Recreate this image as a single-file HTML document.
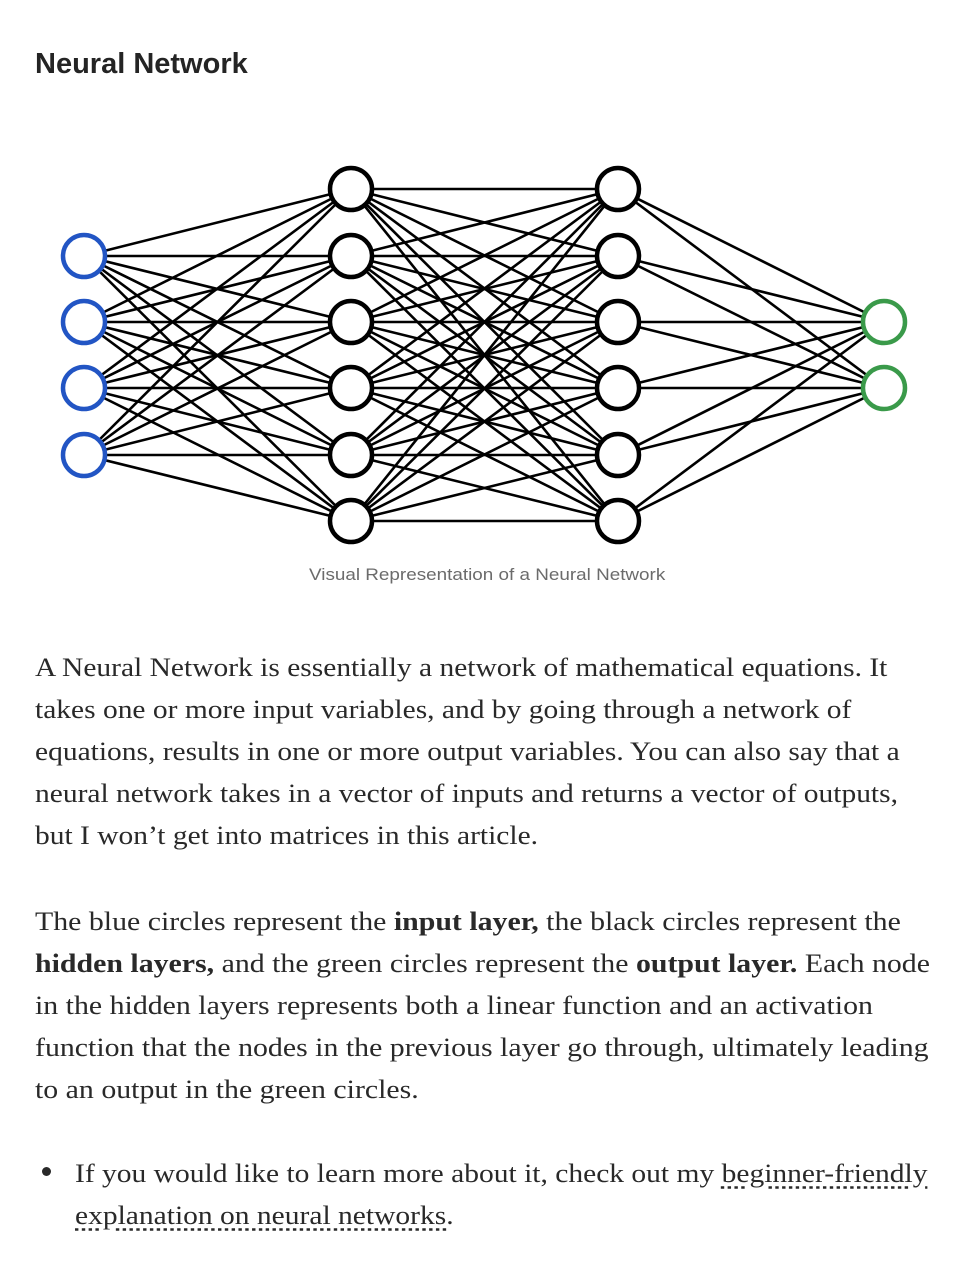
<!DOCTYPE html>
<html><head><meta charset="utf-8"><style>
body{margin:0;background:#fff;width:968px;height:1274px;overflow:hidden;position:relative;color:#292929}
h2{position:absolute;left:35px;top:48px;margin:0;font:bold 29px "Liberation Sans",sans-serif;color:#242424}
svg{position:absolute;left:0;top:0}
.cap{position:absolute;left:309px;top:565px;font:17px "Liberation Sans",sans-serif;color:#6b6b6b;white-space:nowrap;transform:scaleX(1.11);transform-origin:left}
.p{position:absolute;left:35px;font:26px/42px "Liberation Serif",serif;white-space:nowrap;transform:scaleX(1.134);transform-origin:left}
.p b{font-weight:bold}
u{text-decoration:underline dotted;text-underline-offset:4px}
.dot{position:absolute;left:42px;top:1167px;width:9px;height:9px;border-radius:50%;background:#292929}
</style></head><body>
<h2>Neural Network</h2>
<svg width="968" height="560" id="s"></svg>
<div class="cap">Visual Representation of a Neural Network</div>
<div class="p" style="top:647px">A Neural Network is essentially a network of mathematical equations. It<br>takes one or more input variables, and by going through a network of<br>equations, results in one or more output variables. You can also say that a<br>neural network takes in a vector of inputs and returns a vector of outputs,<br>but I won’t get into matrices in this article.</div>
<div class="p" style="top:901px;transform:scaleX(1.148)">The blue circles represent the <b>input layer,</b> the black circles represent the<br><b>hidden layers,</b> and the green circles represent the <b>output layer.</b> Each node<br>in the hidden layers represents both a linear function and an activation<br>function that the nodes in the previous layer go through, ultimately leading<br>to an output in the green circles.</div>
<div class="dot"></div>
<div class="p" style="left:75px;top:1153px;transform:scaleX(1.135)">If you would like to learn more about it, check out my <u>beginner-friendly</u><br><u>explanation on neural networks</u>.</div>
<script>
var L=[[84,[256,322,388,455],'#2255c4'],[351,[189,256,322,388,455,521],'#000'],[618,[189,256,322,388,455,521],'#000'],[884,[322,388],'#3a9a4a']];
var h='';
for(var i=0;i<3;i++){var a=L[i],b=L[i+1];a[1].forEach(function(y1){b[1].forEach(function(y2){h+='<line x1="'+a[0]+'" y1="'+y1+'" x2="'+b[0]+'" y2="'+y2+'" stroke="#000" stroke-width="2.6"/>';});});}
L.forEach(function(l){l[1].forEach(function(y){h+='<circle cx="'+l[0]+'" cy="'+y+'" r="21" fill="#fff" stroke="'+l[2]+'" stroke-width="4.5"/>';});});
document.getElementById('s').innerHTML=h;
</script>
</body></html>
